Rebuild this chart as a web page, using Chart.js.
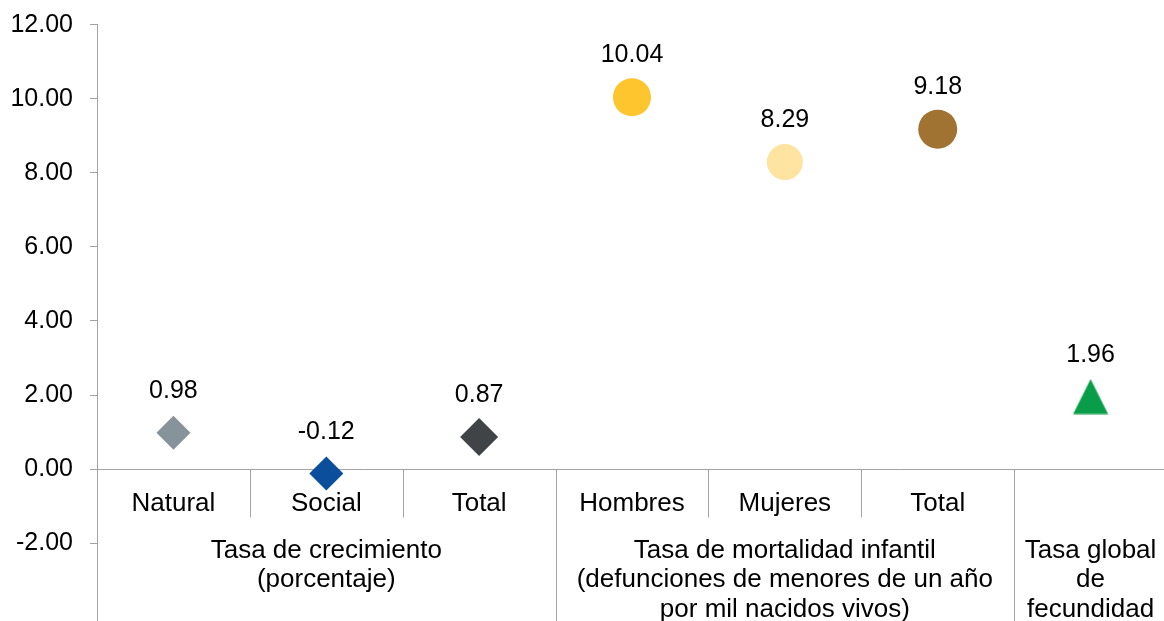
<!DOCTYPE html>
<html>
<head>
<meta charset="utf-8">
<script src="https://cdn.jsdelivr.net/npm/chart.js@4"></script>
<style>
html, body { margin: 0; padding: 0; overflow: hidden; background: #fff; }
#wrap { width: 1167px; height: 621px; }
</style>
</head>
<body>
<div id="wrap"><canvas id="chart"></canvas></div>
<script>
var categories = ['Natural', 'Social', 'Total', 'Hombres', 'Mujeres', 'Total', ''];
var values = [0.98, -0.12, 0.87, 10.04, 8.29, 9.18, 1.96];
var groupLabels = [
    ['Tasa de crecimiento', '(porcentaje)'],
    ['Tasa de mortalidad infantil', '(defunciones de menores de un año', 'por mil nacidos vivos)'],
    ['Tasa global', 'de', 'fecundidad']
];
var groupSizes = [3, 3, 1];
var yTicks = [-2, 0, 2, 4, 6, 8, 10, 12];
var colors = ['#87939a', '#0b4f9c', '#404447', '#fec52e', '#fee3a1', '#a07333', '#0a9d49'];

var FONT = "'Liberation Sans', Arial, sans-serif";
var GRAY = '#a3a3a3';

// triangle marker (Excel style, as wide as tall)
var tri = document.createElement('canvas');
tri.width = 36;
tri.height = 36;
var tctx = tri.getContext('2d');
tctx.fillStyle = colors[6];
tctx.beginPath();
tctx.moveTo(18, 0.5);
tctx.lineTo(35.5, 35.5);
tctx.lineTo(0.5, 35.5);
tctx.closePath();
tctx.fill();

var catAxis = {
    id: 'catAxis',
    beforeDatasetsDraw: function(chart) {
        var ctx = chart.ctx, xs = chart.scales.x, ys = chart.scales.y, area = chart.chartArea;
        var y0 = Math.round(ys.getPixelForValue(0)) + 0.5;
        var half = (xs.getPixelForValue(1) - xs.getPixelForValue(0)) / 2;
        ctx.save();
        ctx.strokeStyle = GRAY;
        ctx.lineWidth = 1;
        ctx.beginPath();
        ctx.moveTo(area.left, y0);
        ctx.lineTo(area.right, y0);
        var idx = 0;
        groupSizes.forEach(function(n) {
            for (var i = 0; i < n; i++) {
                var x = Math.round(xs.getPixelForValue(idx + i) + half) + 0.5;
                var bottom = (i === n - 1) ? area.bottom : y0 + 48;
                ctx.moveTo(x, y0);
                ctx.lineTo(x, bottom);
            }
            idx += n;
        });
        ctx.stroke();

        ctx.fillStyle = '#000';
        ctx.textAlign = 'center';
        ctx.textBaseline = 'alphabetic';
        ctx.font = '26px ' + FONT;
        categories.forEach(function(c, i) {
            ctx.fillText(c, xs.getPixelForValue(i), y0 + 41);
        });
        idx = 0;
        groupSizes.forEach(function(n, g) {
            var cx = (xs.getPixelForValue(idx) + xs.getPixelForValue(idx + n - 1)) / 2;
            groupLabels[g].forEach(function(line, k) {
                ctx.fillText(line, cx, y0 + 88 + k * 29.5);
            });
            idx += n;
        });
        ctx.restore();
    },
    afterDatasetsDraw: function(chart) {
        var ctx = chart.ctx;
        var meta = chart.getDatasetMeta(0);
        ctx.save();
        ctx.fillStyle = '#000';
        ctx.textAlign = 'center';
        ctx.textBaseline = 'alphabetic';
        ctx.font = '25px ' + FONT;
        meta.data.forEach(function(pt, i) {
            ctx.fillText(values[i].toFixed(2), pt.x, pt.y - 35);
        });
        ctx.restore();
    }
};

var ctx = document.getElementById('chart').getContext('2d');
var chart = new Chart(ctx, {
    type: 'line',
    data: {
        labels: categories,
        datasets: [{
            data: values,
            showLine: false,
            pointStyle: ['rectRot', 'rectRot', 'rectRot', 'circle', 'circle', 'circle', tri],
            pointRadius: [17, 17, 19, 19, 18, 19.5, 18],
            pointBackgroundColor: colors,
            pointBorderColor: colors,
            pointBorderWidth: 0
        }]
    },
    options: {
        responsive: true,
        maintainAspectRatio: false,
        animation: false,
        events: [],
        layout: { autoPadding: false, padding: { top: 24.7, left: 0, right: 0, bottom: 0 } },
        plugins: {
            legend: { display: false },
            tooltip: { enabled: false }
        },
        scales: {
            x: {
                type: 'category',
                display: false,
                offset: true
            },
            y: {
                min: -4.1,
                max: 12,
                afterBuildTicks: function(s) {
                    s.ticks = yTicks.map(function(v) { return { value: v }; });
                },
                afterFit: function(s) {
                    s.width = 97;
                    s.paddingTop = 0;
                    s.paddingBottom = 0;
                },
                ticks: {
                    color: '#000',
                    padding: 17,
                    font: { size: 25, family: FONT },
                    callback: function(v) { return v.toFixed(2); }
                },
                grid: { drawOnChartArea: false, drawTicks: true, tickLength: 7, color: GRAY },
                border: { color: GRAY }
            }
        }
    },
    plugins: [catAxis]
});
</script>
</body>
</html>
